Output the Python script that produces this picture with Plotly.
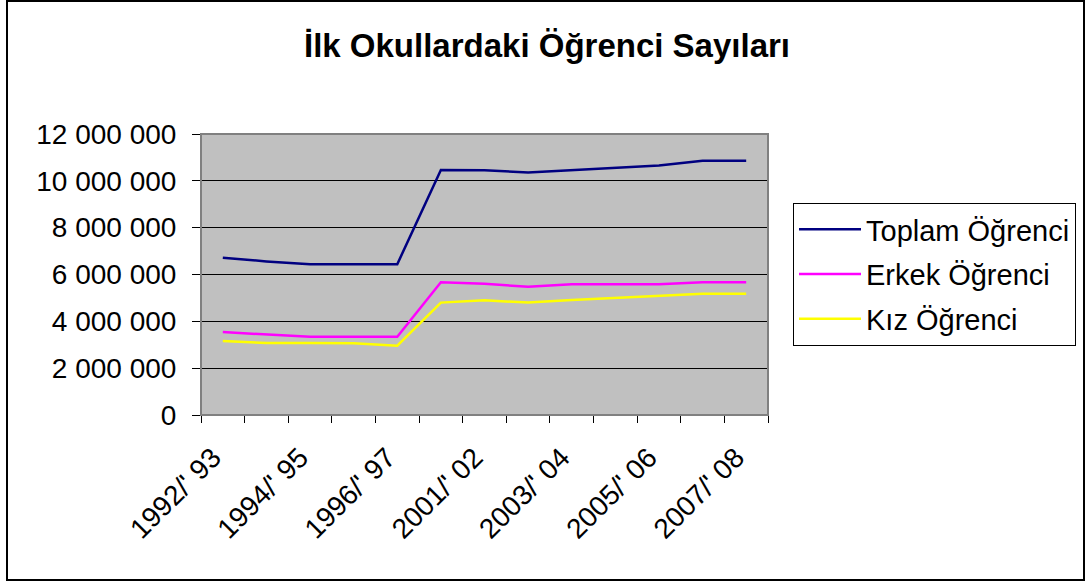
import plotly.graph_objects as go

categories = ["1992/' 93", "1993/' 94", "1994/' 95", "1995/' 96", "1996/' 97",
              "2000/' 01", "2001/' 02", "2002/' 03", "2003/' 04", "2004/' 05",
              "2005/' 06", "2006/' 07", "2007/' 08"]
toplam = [6720000, 6560000, 6440000, 6440000, 6440000, 10460000, 10450000,
          10360000, 10460000, 10560000, 10660000, 10860000, 10860000]
erkek = [3540000, 3450000, 3340000, 3340000, 3340000, 5670000, 5600000,
         5480000, 5580000, 5580000, 5580000, 5670000, 5670000]
kiz = [3160000, 3070000, 3070000, 3060000, 2960000, 4800000, 4900000,
       4800000, 4910000, 5010000, 5090000, 5180000, 5180000]
tick_text = [c if i % 2 == 0 else "" for i, c in enumerate(categories)]
y_ticks = [0, 2000000, 4000000, 6000000, 8000000, 10000000, 12000000]
y_tick_text = ["0", "2 000 000", "4 000 000", "6 000 000", "8 000 000",
               "10 000 000", "12 000 000"]

FONT = "Arial, Liberation Sans, sans-serif"
W, H = 1088, 581
L, R, T, B = 201, 320, 134, 166
pw, ph = W - L - R, H - T - B

fig = go.Figure()
series = [("Toplam Öğrenci", toplam, "#000080"),
          ("Erkek Öğrenci", erkek, "#FF00FF"),
          ("Kız Öğrenci", kiz, "#FFFF00")]
for name, vals, col in series:
    fig.add_trace(go.Scatter(x=categories, y=vals, mode="lines", name=name,
                             legendgroup=name,
                             line=dict(color=col, width=2.5)))

def px(xp):
    return (xp - L) / pw

def py(yp):
    return (H - B - yp) / ph

fig.update_layout(
    width=W, height=H,
    margin=dict(l=L, r=R, t=T, b=B, autoexpand=False),
    paper_bgcolor="white",
    plot_bgcolor="#C0C0C0",
    font=dict(family=FONT, size=28, color="black"),
    title=dict(text="<b>İlk Okullardaki Öğrenci Sayıları</b>",
               x=px(547), xref="paper", xanchor="center",
               y=1 - 45 / H, yanchor="middle",
               font=dict(family=FONT, size=33, color="black")),
    showlegend=True,
    legend=dict(x=px(793), y=py(203), xanchor="left", yanchor="top",
                bordercolor="black", borderwidth=1, bgcolor="white",
                font=dict(family=FONT, size=29, color="black"),
                tracegroupgap=4, itemwidth=62),
    xaxis=dict(type="category", categoryorder="array", categoryarray=categories,
               range=[-0.5, len(categories) - 0.5],
               tickmode="array", tickvals=categories, ticktext=tick_text,
               tickson="boundaries", ticks="outside", ticklen=7,
               tickcolor="black", tickwidth=1,
               tickangle=-45, ticklabelshift=-10, ticklabelstandoff=14,
               showgrid=False, showline=True,
               linecolor="black", linewidth=1, mirror=False,
               tickfont=dict(family=FONT, size=28, color="black"),
               zeroline=False),
    yaxis=dict(range=[0, 12000000], tickmode="array", tickvals=y_ticks,
               ticktext=y_tick_text, ticks="outside", ticklen=8,
               tickcolor="black", tickwidth=1, ticklabelstandoff=10,
               showgrid=True, gridcolor="black", gridwidth=1,
               showline=True, linecolor="black", linewidth=1,
               tickfont=dict(family=FONT, size=28, color="black"),
               zeroline=False),
    shapes=[
        dict(type="rect", xref="paper", yref="paper",
             x0=0, x1=1, y0=0, y1=1, line=dict(color="#808080", width=2),
             fillcolor="rgba(0,0,0,0)", layer="above"),
        dict(type="rect", xref="paper", yref="paper",
             x0=px(7), x1=px(1084), y0=py(580), y1=py(1),
             line=dict(color="black", width=2), fillcolor="rgba(0,0,0,0)",
             layer="below"),
    ],
)

fig.write_html("out.html", config={"displayModeBar": False},
               post_script="document.body.style.margin='0';document.body.style.padding='0';")
